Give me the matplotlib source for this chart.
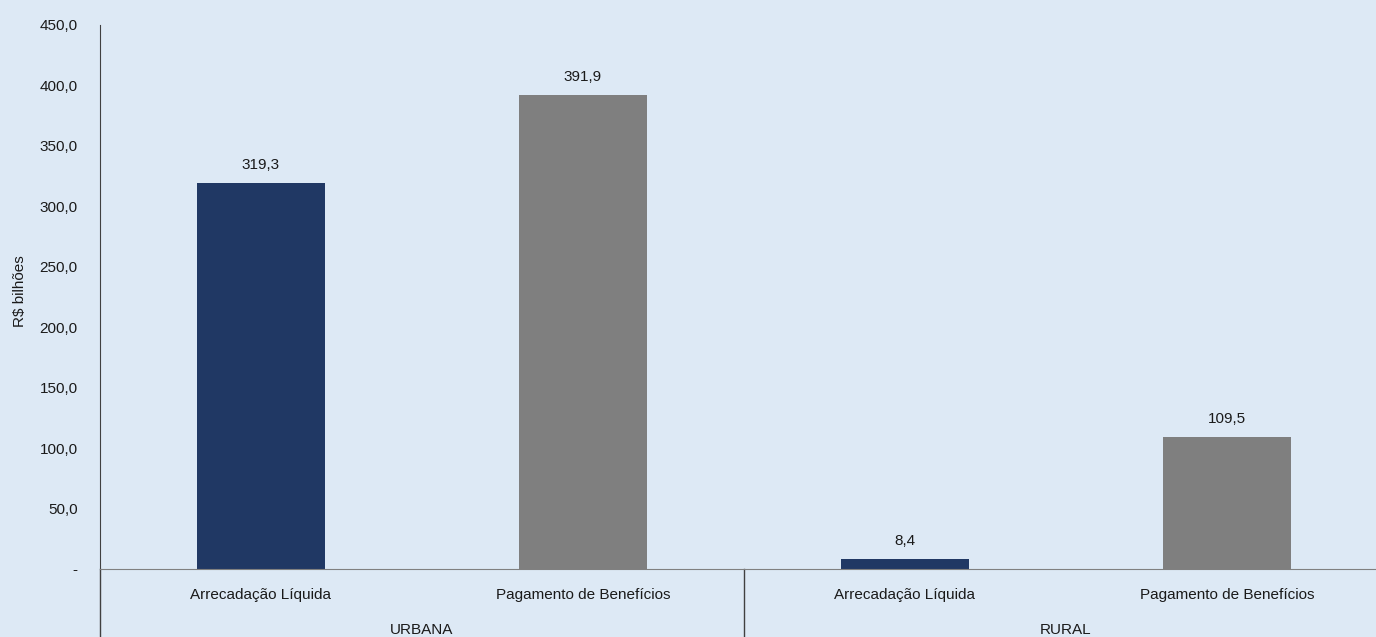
import matplotlib.pyplot as plt
import matplotlib.transforms as mtransforms
from matplotlib import font_manager
import numpy as np

# dados
grupos = ['URBANA', 'RURAL']
categorias = ['Arrecadação Líquida', 'Pagamento de Benefícios',
              'Arrecadação Líquida', 'Pagamento de Benefícios']
valores = [319.3, 391.9, 8.4, 109.5]
rotulos = ['319,3', '391,9', '8,4', '109,5']
yticks = [0, 50, 100, 150, 200, 250, 300, 350, 400, 450]

fundo = '#dde9f5'
cores = ['#203864', '#7f7f7f', '#203864', '#7f7f7f']

nomes = {f.name for f in font_manager.fontManager.ttflist}
fonte = 'Liberation Sans Narrow' if 'Liberation Sans Narrow' in nomes else 'Liberation Sans'
plt.rcParams['font.family'] = [fonte, 'DejaVu Sans']
plt.rcParams['font.size'] = 11

fig = plt.figure(figsize=(13.76, 6.37), dpi=100, facecolor=fundo)
ax = fig.add_axes([100/1376, 68/637, 1288/1376, 544/637])
ax.set_facecolor(fundo)

x = np.arange(len(valores))
ax.bar(x, valores, width=0.4, color=cores)
for xi, v, r in zip(x, valores, rotulos):
    ax.text(xi, v + 9, r, ha='center', va='bottom', fontsize=11, color='#1a1a1a')

ax.set_xlim(-0.5, len(valores) - 0.5)
ax.set_ylim(0, 450)
ax.set_yticks(yticks)
ax.set_yticklabels(['-' if t == 0 else f'{t:.1f}'.replace('.', ',') for t in yticks])
ax.tick_params(axis='y', length=0, pad=16, labelsize=11, labelcolor='#1a1a1a')
ax.set_xticks(x)
ax.set_xticklabels(categorias)
ax.tick_params(axis='x', length=0, pad=14, labelsize=11, labelcolor='#1a1a1a')
ax.set_ylabel('R$ bilhões', fontsize=11, color='#1a1a1a')
ax.yaxis.set_label_coords(-0.0565, 0.51)

for s in ['top', 'right']:
    ax.spines[s].set_visible(False)
ax.spines['left'].set_color('#404040')
ax.spines['bottom'].set_color('#808080')

# separadores e nomes dos grupos
trans = mtransforms.blended_transform_factory(ax.transData, ax.transAxes)
for xs in [-0.5, 1.5, 3.5]:
    ax.plot([xs, xs], [0, -68/544], transform=trans, color='#404040',
            lw=1, clip_on=False)
for i, g in enumerate(grupos):
    ax.text(2 * i + 0.5, -65/544, g, transform=trans, ha='center',
            va='baseline', fontsize=11, color='#1a1a1a')

fig.savefig('out.png', dpi=100, facecolor=fundo)
